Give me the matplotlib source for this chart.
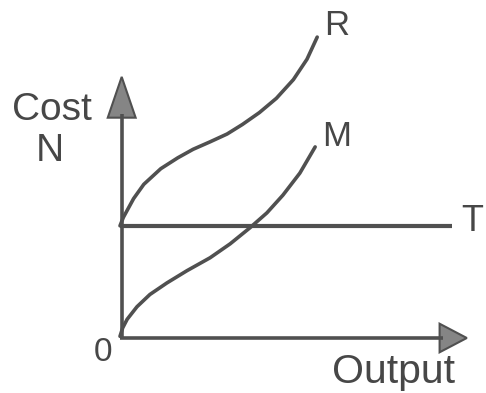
import matplotlib
matplotlib.use('Agg')
import matplotlib.pyplot as plt
from matplotlib.patches import Polygon

# curves (output, cost)
r_x = [0, 0.1, 0.4, 0.7, 1.2, 1.7, 2.15, 2.65, 3.15, 3.6, 4.1, 4.6, 5.1, 5.5, 5.8]
r_y = [3.3, 3.55, 4.1, 4.52, 4.98, 5.3, 5.55, 5.77, 6.0, 6.28, 6.63, 7.05, 7.6, 8.2, 8.85]

m_x = [0, 0.08, 0.21, 0.5, 0.88, 1.38, 1.97, 2.65, 3.24, 3.82, 4.32, 4.79, 5.29, 5.74]
m_y = [0.05, 0.3, 0.55, 0.92, 1.28, 1.62, 1.98, 2.36, 2.77, 3.24, 3.68, 4.2, 4.85, 5.62]

t_x = [0, 9.76]
t_y = [3.28, 3.28]

curve_labels = ['R', 'M', 'T']

ink = '#505050'
txt = '#474747'
plt.rcParams['font.family'] = ['Liberation Sans', 'DejaVu Sans']

fig = plt.figure(figsize=(4.86, 3.93), dpi=100)
ax = fig.add_axes([0, 0, 1, 1])
ax.set_xlim(-120 / 34, 366 / 34)
ax.set_ylim(-55 / 34, 338 / 34)
ax.set_axis_off()

# axes with arrow heads
ax.plot([0, 9.5], [0, 0], color=ink, lw=2.6, solid_capstyle='butt')
ax.plot([0.05, 0.05], [0, 6.6], color=ink, lw=2.6, solid_capstyle='butt')
ax.add_patch(Polygon([[9.4, 0.42], [10.2, 0], [9.4, -0.42]], closed=True,
                     facecolor='#858585', edgecolor=ink, lw=1.5))
ax.add_patch(Polygon([[-0.36, 6.48], [0.05, 7.68], [0.46, 6.48]], closed=True,
                     facecolor='#858585', edgecolor=ink, lw=1.5))

# curves
ax.plot(r_x, r_y, color=ink, lw=2.6, solid_capstyle='round', solid_joinstyle='round')
ax.plot(m_x, m_y, color=ink, lw=2.6, solid_capstyle='round', solid_joinstyle='round')
ax.plot(t_x, t_y, color=ink, lw=3.0, solid_capstyle='butt')

# labels
ax.text(6.38, 9.18, curve_labels[0], fontsize=25, color=txt, ha='center', va='center')
ax.text(6.38, 5.94, curve_labels[1], fontsize=25, color=txt, ha='center', va='center')
ax.text(10.35, 3.44, curve_labels[2], fontsize=26, color=txt, ha='center', va='center')
ax.text(-2.0, 6.71, 'Cost', fontsize=28, color=txt, ha='center', va='center')
ax.text(-2.06, 5.5, 'N', fontsize=28, color=txt, ha='center', va='center')
ax.text(-0.5, -0.44, '0', fontsize=24, color=txt, ha='center', va='center')
ax.text(8.03, -1.0, 'Output', fontsize=29.5, color=txt, ha='center', va='center')

fig.savefig('out.png', dpi=100)
